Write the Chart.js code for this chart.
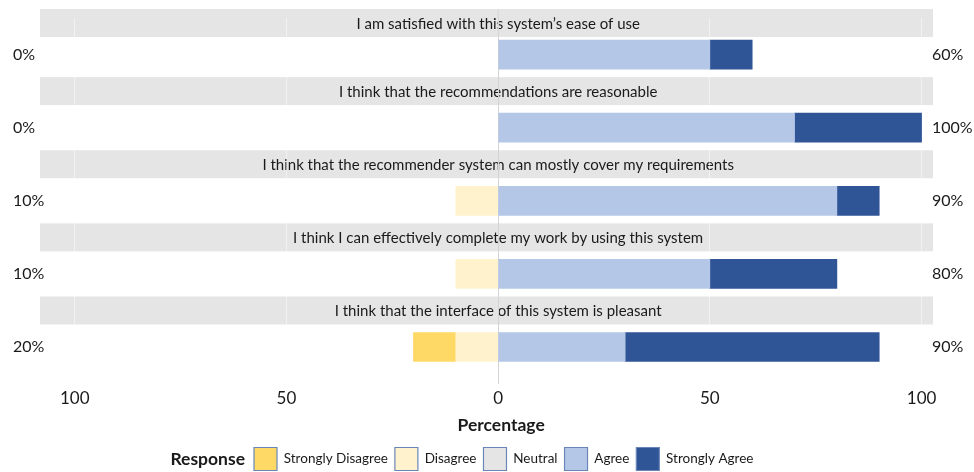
<!DOCTYPE html>
<html>
<head>
<meta charset="utf-8">
<script src="https://cdn.jsdelivr.net/npm/chart.js@4.4.1/dist/chart.umd.min.js"></script>
<style>
  html, body { margin: 0; padding: 0; background: #fff; }
  #wrap { width: 974px; height: 472px; }
</style>
</head>
<body>
<div id="wrap"><canvas id="likertChart"></canvas></div>
<script>
// ── Data ─────────────────────────────────────────────────────────────────────
const questions = [
  "I am satisfied with this system\u2019s ease of use",
  "I think that the recommendations are reasonable",
  "I think that the recommender system can mostly cover my requirements",
  "I think I can effectively complete my work by using this system",
  "I think that the interface of this system is pleasant",
];

const stronglyDisagree = [0, 0, 0, 0, 10];
const disagree         = [0, 0, 10, 10, 10];
const neutral          = [0, 0, 0, 0, 0];
const agree            = [50, 70, 80, 50, 30];
const stronglyAgree    = [10, 30, 10, 30, 60];

const xTicks = [-100, -50, 0, 50, 100];
const xMin = -108.2;
const xMax = 102.7;

const legendOrder = ["Strongly Disagree", "Disagree", "Neutral", "Agree", "Strongly Agree"];

const COLORS = {
  sd: "#FFD966",
  d:  "#FFF2CC",
  n:  "#E5E5E5",
  a:  "#B4C7E7",
  sa: "#2F5597",
};

const FONT = "Lato, 'Open Sans', sans-serif";
const TEXT = "#1a1a1a";
const ZERO_LINE = "#d4d4d4";

Chart.defaults.font.family = FONT;
Chart.defaults.color = TEXT;

// zero shares are left out so no hairline bar is drawn at 0
const neg = arr => arr.map(v => (v ? -v : null));
const pos = arr => arr.map(v => (v ? v : null));

// ── Facet strips, percent labels, axis title, legend title ──────────────────
const likertDecor = {
  id: "likertDecor",
  afterLayout(chart) {
    // legend row starts after the "Response" title
    const lg = chart.legend;
    const w = lg.right - lg.left;
    lg.left = 254 - lg.options.labels.padding;
    lg.right = lg.left + w;
  },
  beforeDraw(chart) {
    const { ctx, chartArea, scales: { x, y } } = chart;
    const band = y.getPixelForValue(1) - y.getPixelForValue(0);
    const x0 = x.getPixelForValue(0);
    ctx.save();
    ctx.font = `15px ${FONT}`;
    ctx.textAlign = "center";
    ctx.textBaseline = "middle";
    questions.forEach((q, i) => {
      const cy = Math.max(y.getPixelForValue(i) - band / 2, 23);
      ctx.fillStyle = "#E5E5E5";
      ctx.fillRect(chartArea.left, cy - 14, chartArea.right - chartArea.left, 28);
      ctx.fillStyle = TEXT;
      ctx.fillText(q, x0, cy + 1);
    });
    // zero line carried up through the first strip
    ctx.strokeStyle = ZERO_LINE;
    ctx.lineWidth = 1;
    ctx.beginPath();
    ctx.moveTo(x0, 9);
    ctx.lineTo(x0, chartArea.top);
    ctx.stroke();
    ctx.restore();
  },
  afterDatasetsDraw(chart) {
    const { ctx, scales: { y } } = chart;
    ctx.save();
    ctx.font = `16px ${FONT}`;
    ctx.fillStyle = TEXT;
    ctx.textBaseline = "middle";
    ctx.textAlign = "left";
    questions.forEach((q, i) => {
      const py = y.getPixelForValue(i);
      const left = stronglyDisagree[i] + disagree[i];
      const right = agree[i] + stronglyAgree[i];
      ctx.fillText(left + "%", 13, py);
      ctx.fillText(right + "%", 932, py);
    });
    ctx.restore();
  },
  afterDraw(chart) {
    const { ctx, legend, scales: { x } } = chart;
    ctx.save();
    ctx.fillStyle = TEXT;
    ctx.textBaseline = "middle";
    // axis title, centred on the zero line
    ctx.font = `bold 17.5px ${FONT}`;
    ctx.textAlign = "center";
    ctx.fillText("Percentage", x.getPixelForValue(0) + 3, 425);
    // legend title
    const hb = legend.legendHitBoxes[0];
    if (hb) {
      ctx.textAlign = "right";
      ctx.fillText("Response", hb.left - 9, hb.top + hb.height / 2);
    }
    ctx.restore();
  },
};

// ── Chart ────────────────────────────────────────────────────────────────────
const ctx = document.getElementById("likertChart").getContext("2d");

new Chart(ctx, {
  type: "bar",
  data: {
    labels: questions,
    datasets: [
      { label: "Disagree",          data: neg(disagree),         backgroundColor: COLORS.d },
      { label: "Strongly Disagree", data: neg(stronglyDisagree), backgroundColor: COLORS.sd },
      { label: "Neutral",           data: pos(neutral),          backgroundColor: COLORS.n },
      { label: "Agree",             data: pos(agree),            backgroundColor: COLORS.a },
      { label: "Strongly Agree",    data: pos(stronglyAgree),    backgroundColor: COLORS.sa },
    ],
  },
  options: {
    indexAxis: "y",
    responsive: true,
    maintainAspectRatio: false,
    animation: false,
    layout: { padding: { top: 18, left: 40, right: 41, bottom: -8.5 } },
    datasets: { bar: { barThickness: 29, borderWidth: 0, skipNull: false } },
    scales: {
      y: { stacked: true, display: false },
      x: {
        stacked: true,
        min: xMin,
        max: xMax,
        afterBuildTicks: scale => { scale.ticks = xTicks.map(v => ({ value: v })); },
        ticks: {
          callback: v => Math.abs(v),
          font: { size: 17 },
          color: TEXT,
          padding: 4.4,
          maxRotation: 0,
        },
        grid: {
          drawTicks: false,
          color: c => (c.tick && c.tick.value === 0 ? ZERO_LINE : "rgba(255,255,255,0.45)"),
        },
        border: { display: false },
        title: {
          // space is kept here; the text itself is drawn by likertDecor
          display: true,
          text: "Percentage",
          font: { size: 17.5, weight: "bold" },
          color: "rgba(0,0,0,0)",
          padding: { top: 3, bottom: 3.7 },
        },
      },
    },
    plugins: {
      tooltip: { enabled: false },
      legend: {
        position: "bottom",
        align: "start",
        labels: {
          boxWidth: 23,
          boxHeight: 23,
          padding: 7,
          color: TEXT,
          font: { size: 13.5 },
          sort: (a, b) => legendOrder.indexOf(a.text) - legendOrder.indexOf(b.text),
          generateLabels: chart =>
            Chart.defaults.plugins.legend.labels.generateLabels(chart).map(l => ({
              ...l,
              strokeStyle: "#6a86b8",
              lineWidth: 1.2,
            })),
        },
      },
    },
  },
  plugins: [likertDecor],
});
</script>
</body>
</html>
